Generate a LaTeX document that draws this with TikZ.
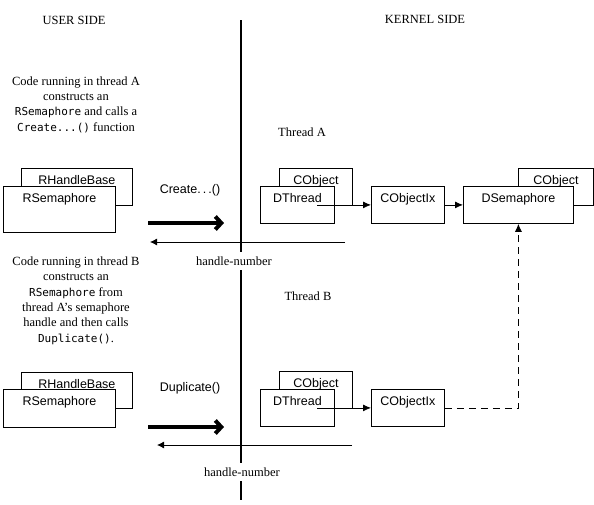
\documentclass[tikz,border=0pt]{standalone}
\usepackage{fontspec}
\setmainfont{Liberation Serif}
\setsansfont{Liberation Sans}
\setmonofont{DejaVu Sans Mono}
\usepackage{tikz}
\usetikzlibrary{arrows.meta,calc}
\newcommand{\codetxt}[1]{{\ttfamily\fontsize{11}{15.4}\selectfont #1}}

\begin{document}
\begin{tikzpicture}[x=1pt, y=-1pt, line width=0.8pt,
    every node/.style={font=\fontsize{12.5}{15.4}\selectfont, align=center},
    objbox/.style={draw, fill=white, anchor=north west, inner sep=0pt, text height=16.5pt, font=\sffamily\fontsize{12.5}{15}\selectfont},
    callname/.style={font=\sffamily\fontsize{12.5}{15}\selectfont},
    handlelbl/.style={fill=white, inner xsep=2pt, inner ysep=4.5pt},
    call/.style={line width=4pt, -{Straight Barb[length=6pt, width=13pt]}},
    retour/.style={-{Latex[length=7pt, width=7pt]}},
    lien/.style={-{Latex[length=8pt, width=7pt]}}]
        \useasboundingbox (0,0) rectangle (594,504);

        % Separation utilisateur / noyau
        \draw[line width=2.5pt] (241,20) -- (241,500);
        \node (user) at (74,20) {USER SIDE};
        \node (kernel) at (425,19) {KERNEL SIDE};

        % Thread A, cote utilisateur
        \node (descA) at (76,104.5) {Code running in thread A\\constructs an\\\codetxt{RSemaphore} and calls a\\\codetxt{Create...()} function};
        \node[objbox, minimum width=111, text depth=20.5pt] (rhbA) at (21,168) {RHandleBase};
        \node[objbox, minimum width=112, text depth=29.5pt] (rsemA) at (3,186) {RSemaphore};
        \node[callname] (createlbl) at (190,190) {Create.\,.\,.()};
        \coordinate (callA0) at (148,223);
        \coordinate (callA1) at (224,223);
        \draw[call] (callA0) -- (callA1);

        % Thread A, cote noyau
        \node (thrA) at (302,132) {Thread A};
        \node[objbox, minimum width=73, text depth=20.5pt] (cobA) at (279,168) {CObject};
        \node[objbox, minimum width=74, text depth=20.5pt] (dthA) at (260,186) {DThread};
        \node[objbox, minimum width=73, text depth=20.5pt] (cixA) at (371,186) {CObjectIx};
        \node[objbox, minimum width=75, text depth=20.5pt] (cobS) at (518,168) {CObject};
        \node[objbox, minimum width=110, text depth=20.5pt] (dsem) at (463,186) {DSemaphore};
        \draw[lien] ([xshift=20pt]dthA.center) -- (cixA.west);
        \draw[lien] (cixA.east) -- (dsem.west);

        % Retour du handle A
        \coordinate (retA0) at (345,242);
        \coordinate (retA1) at (150,242);
        \draw[retour] (retA0) -- (retA1);
        \node[handlelbl] (hnA) at (234,261) {handle-number};

        % Thread B, cote utilisateur
        \node (descB) at (76,300.5) {Code running in thread B\\constructs an\\\codetxt{RSemaphore} from\\thread A's semaphore\\handle and then calls\\\codetxt{Duplicate()}.};
        \node[objbox, minimum width=111, text depth=19.5pt] (rhbB) at (21,372) {RHandleBase};
        \node[objbox, minimum width=112, text depth=21.5pt] (rsemB) at (3,389) {RSemaphore};
        \node[callname] (duplbl) at (190,388) {Duplicate()};
        \coordinate (callB0) at (148,427);
        \coordinate (callB1) at (224,427);
        \draw[call] (callB0) -- (callB1);

        % Thread B, cote noyau
        \node (thrB) at (308,296) {Thread B};
        \node[objbox, minimum width=73, text depth=20.5pt] (cobB) at (279,371) {CObject};
        \node[objbox, minimum width=74, text depth=20.5pt] (dthB) at (260,389) {DThread};
        \node[objbox, minimum width=73, text depth=20.5pt] (cixB) at (371,389) {CObjectIx};
        \draw[lien] ([xshift=20pt]dthB.center) -- (cixB.west);
        \draw[lien, dash pattern=on 7pt off 5pt] (cixB.east) -| (dsem.south);

        % Retour du handle B
        \coordinate (retB0) at (352,445);
        \coordinate (retB1) at (157,445);
        \draw[retour] (retB0) -- (retB1);
        \node[handlelbl] (hnB) at (242,472) {handle-number};
    \end{tikzpicture}
\end{document}
